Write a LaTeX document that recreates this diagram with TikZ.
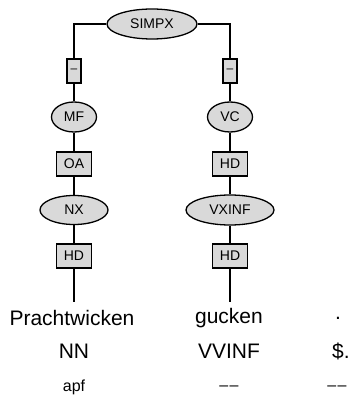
\documentclass[tikz,border=0pt]{standalone}
\usepackage{fontspec}
\setmainfont{Liberation Sans}
\usetikzlibrary{shapes.geometric}
\definecolor{nodegray}{HTML}{D9D9D9}
\tikzset{
  cat/.style={ellipse, draw, fill=nodegray, line width=1.3pt, inner sep=0pt, font=\fontsize{14}{16}\selectfont},
  edgelab/.style={rectangle, draw, fill=nodegray, line width=1.3pt, inner sep=0pt, minimum width=35pt, minimum height=24pt, font=\fontsize{14}{16}\selectfont},
  dashlab/.style={rectangle, draw, fill=nodegray, line width=1.3pt, inner sep=0pt, minimum width=14pt, minimum height=24pt, font=\fontsize{12}{14}\selectfont},
  conn/.style={line width=1.3pt},
  word/.style={inner sep=2pt, font=\fontsize{21}{24}\selectfont},
  morph/.style={inner sep=0pt, font=\fontsize{16}{18}\selectfont}
}
\begin{document}
\begin{tikzpicture}[x=1pt,y=-1pt]
\useasboundingbox (0,0) rectangle (352,414);
\node[cat, minimum width=90pt, minimum height=30pt] (simpx) at (152,24) {SIMPX};
\node[dashlab] (d1) at (74,71) {–};
\node[dashlab] (d2) at (230,71) {–};
\node[cat, minimum width=45pt, minimum height=30pt] (mf) at (74,117) {MF};
\node[cat, minimum width=45pt, minimum height=30pt] (vc) at (230,117) {VC};
\node[edgelab] (oa) at (74,164) {OA};
\node[edgelab] (hd1) at (230,164) {HD};
\node[cat, minimum width=68pt, minimum height=29pt] (nx) at (74,210) {NX};
\node[cat, minimum width=88pt, minimum height=30pt] (vxinf) at (230,210) {VXINF};
\node[edgelab] (hd2) at (74,256) {HD};
\node[edgelab] (hd3) at (230,256) {HD};
\coordinate (e1) at (74,302);
\coordinate (e2) at (230,302);
\node[word] (w1) at (72,318) {Prachtwicken};
\node[word] (w2) at (229,318) {gucken};
\node[word] (w3) at (338,318) {.};
\node[word] (t1) at (74,351) {NN};
\node[word] (t2) at (229,351) {VVINF};
\node[word] (t3) at (341,351) {\$.};
\node[morph] (m1) at (74,387) {apf};
\node[morph] (m2) at (229,388) {–\kern1.5pt–};
\node[morph] (m3) at (337,388) {–\kern1.5pt–};
\draw[conn] (simpx.west) -| (d1.north);
\draw[conn] (simpx.east) -| (d2.north);
\draw[conn] (d1) -- (mf);
\draw[conn] (d2) -- (vc);
\draw[conn] (mf) -- (oa);
\draw[conn] (vc) -- (hd1);
\draw[conn] (oa) -- (nx);
\draw[conn] (hd1) -- (vxinf);
\draw[conn] (nx) -- (hd2);
\draw[conn] (vxinf) -- (hd3);
\draw[conn] (hd2) -- (e1);
\draw[conn] (hd3) -- (e2);
\end{tikzpicture}
\end{document}
